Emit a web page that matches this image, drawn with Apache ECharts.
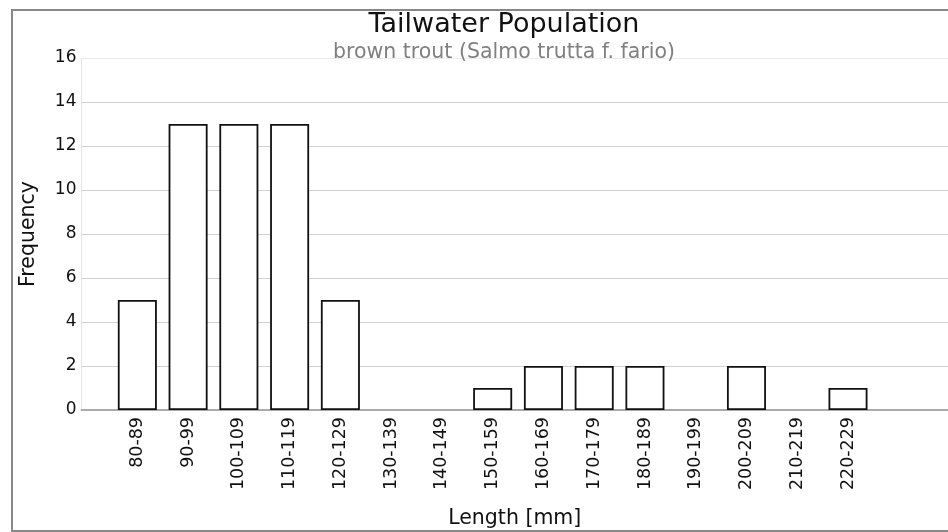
<!DOCTYPE html>
<html>
<head>
<meta charset="utf-8">
<script src="https://cdn.jsdelivr.net/npm/echarts@6/dist/echarts.min.js"></script>
<style>
html, body { margin: 0; padding: 0; background: #fff; }
#main { width: 948px; height: 532px; }
</style>
</head>
<body>
<div id="main"></div>
<script>
var lengthClasses = ['80-89', '90-99', '100-109', '110-119', '120-129', '130-139', '140-149',
	'150-159', '160-169', '170-179', '180-189', '190-199', '200-209', '210-219', '220-229'];
var frequency = [5, 13, 13, 13, 5, 0, 0, 1, 2, 2, 2, 0, 2, 0, 1];
var yTicks = [0, 2, 4, 6, 8, 10, 12, 14, 16];

var fontFam = '"DejaVu Sans", sans-serif';
var myChart = echarts.init(document.getElementById('main'));

// empty classes get no outline at all
var barData = [];
for (var i = 0; i < frequency.length; i++) {
	var item = { value: [i, frequency[i]] };
	if (frequency[i] == 0) item.itemStyle = { borderWidth: 0, opacity: 0 };
	barData.push(item);
}
var labelIdx = [];
for (var i = 0; i < lengthClasses.length; i++) labelIdx.push(i);

var option = {
	backgroundColor: '#fff',
	animation: false,
	textStyle: { fontFamily: fontFam },
	title: {
		text: 'Tailwater Population',
		subtext: 'brown trout (Salmo trutta f. fario)',
		left: 499,
		textAlign: 'center',
		top: 6,
		itemGap: 4,
		textStyle: { fontFamily: fontFam, fontSize: 27, fontWeight: 'normal', color: '#111' },
		subtextStyle: { fontFamily: fontFam, fontSize: 20.5, color: '#808080' }
	},
	graphic: [{
		type: 'rect',
		shape: { x: 12, y: 10, width: 1000, height: 521 },
		style: { fill: 'none', stroke: '#888', lineWidth: 2 },
		z: 100
	}],
	grid: { left: 81.5, right: 0, top: 58, bottom: 122, outerBoundsMode: 'none', containLabel: false },
	xAxis: {
		type: 'value',
		min: -1.1,
		max: 15.97,
		name: 'Length [mm]',
		nameLocation: 'middle',
		nameGap: 98,
		nameTextStyle: { fontSize: 20.5, color: '#111' },
		axisLine: { show: true, onZero: false, lineStyle: { color: '#aaa', width: 2 } },
		axisTick: { show: false },
		splitLine: { show: false },
		axisLabel: {
			customValues: labelIdx,
			rotate: 90,
			fontSize: 17.5,
			color: '#111',
			margin: 7,
			formatter: function (v) { return lengthClasses[Math.round(v)] || ''; }
		}
	},
	yAxis: {
		type: 'value',
		min: yTicks[0],
		max: yTicks[yTicks.length - 1],
		interval: 2,
		name: 'Frequency',
		nameLocation: 'middle',
		nameGap: 42,
		nameTextStyle: { fontSize: 20.5, color: '#111' },
		axisLine: { show: true, onZero: false, lineStyle: { color: '#e4e4e4', width: 1 } },
		axisTick: { show: false },
		axisLabel: { fontSize: 17, color: '#111', margin: 5 },
		splitLine: { show: true, lineStyle: { color: ['#d2d2d2', '#d2d2d2', '#d2d2d2', '#d2d2d2', '#d2d2d2', '#d2d2d2', '#d2d2d2', '#d2d2d2', '#ececec'], width: 1.2 } }
	},
	series: [{
		type: 'bar',
		data: barData,
		barWidth: 39,
		itemStyle: { color: '#fff', borderColor: '#111', borderWidth: 1.8 },
		z: 3
	}]
};

myChart.setOption(option);
</script>
</body>
</html>
